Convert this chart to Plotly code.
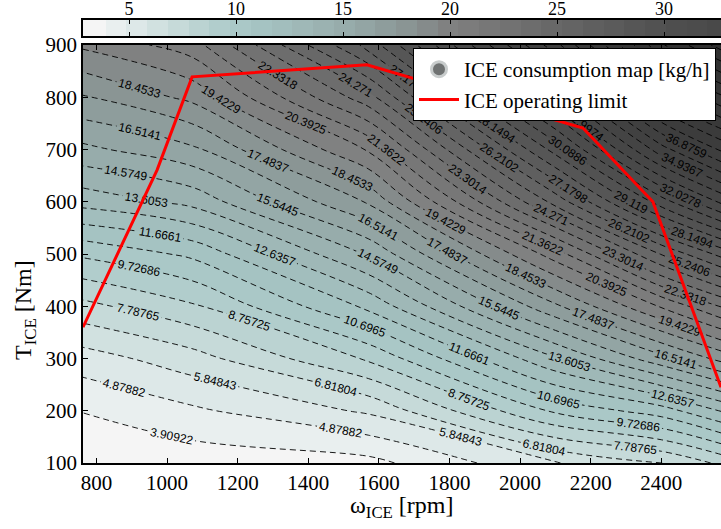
import plotly.graph_objects as go

# ---- data ----
omega = [762, 1070, 1570, 2100, 2400, 2570]               # rpm grid
torque = [100, 200, 300, 400, 500, 600, 700, 800, 900]    # Nm grid
fuel = [                                                  # kg/h, rows = torque
    [2.94, 3.30, 3.60, 5.80, 6.80, 8.00],
    [3.95, 4.70, 6.00, 9.90, 11.2, 12.7],
    [5.40, 6.40, 8.90, 13.5, 16.2, 17.8],
    [7.50, 8.60, 11.9, 17.3, 20.5, 22.4],
    [9.90, 10.9, 14.7, 20.9, 25.3, 27.5],
    [13.0, 13.9, 17.6, 25.6, 30.6, 33.2],
    [15.3, 16.3, 20.5, 29.5, 35.5, 38.0],
    [17.4, 18.7, 23.9, 33.5, 40.0, 42.5],
    [19.6, 20.9, 27.5, 37.5, 44.5, 47.0],
]
limit_speed = [762, 972, 1071, 1566, 2178, 2376, 2569]
limit_torque = [360, 661, 839, 862, 741, 600, 245]

level_start = 3.909216
level_step = 0.9696075
n_levels = 45

x_ticks = [800, 1000, 1200, 1400, 1600, 1800, 2000, 2200, 2400]
y_ticks = [100, 200, 300, 400, 500, 600, 700, 800, 900]
cb_ticks = [5, 10, 15, 20, 25, 30]
cb_range = [2.85, 32.66]

color_stops = [
    (3.42, "#f5f5f5"), (5.0, "#e2ebeb"), (7.0, "#c9dcdb"), (9.5, "#aecbca"),
    (11.0, "#a6c4c3"), (13.0, "#9fb9b8"), (15.5, "#95a9a8"), (18.0, "#8a9594"),
    (20.0, "#808080"), (25.0, "#676767"), (30.0, "#505050"), (35.0, "#424242"),
    (47.1, "#2e2e2e"),
]

# derived level / colour bookkeeping
levels = [level_start + k * level_step for k in range(n_levels)]
level_end = levels[-1]
c_lo = level_start - level_step / 2
c_hi = level_end + level_step / 2
colorscale = [[min(1.0, max(0.0, (v - c_lo) / (c_hi - c_lo))), c] for v, c in color_stops]
colorscale[0][0] = 0.0
colorscale[-1][0] = 1.0
band_edges = [cb_range[0]] + levels + [level_end + level_step]
band_values = [levels[0] - level_step / 2] + [lv + level_step / 2 for lv in levels]

# ---- layout geometry (pixels) ----
W, H = 721, 529
ML, MT, MR, MB = 83, 20, 0, 66
area_h = H - MT - MB            # 443
plot_w = W - ML - MR
plot_top, plot_bot = 45, 463
cb_top, cb_bot = 20, 36
main_dom = [0, (plot_bot - plot_top) / area_h]
cb_dom = [(plot_bot - cb_bot) / area_h, 1]

serif = "Liberation Serif"

fig = go.Figure()
fig.add_trace(go.Contour(
    x=omega, y=torque, z=fuel,
    colorscale=colorscale, showscale=False,
    contours=dict(start=level_start, end=level_end, size=level_step,
                  coloring="fill", showlabels=True,
                  labelfont=dict(size=12, color="black", family="Liberation Sans"),
                  labelformat=".6~g"),
    line=dict(color="black", width=0.9, dash="6px,4px"),
    name="ICE consumption map [kg/h]", showlegend=False,
    xaxis="x", yaxis="y",
))
# legend entry for the map (ellipse-like icon)
fig.add_trace(go.Scatter(
    x=[None], y=[None], mode="markers",
    marker=dict(symbol="circle", size=15, color="#6f7272",
                line=dict(color="#c8cccc", width=3)),
    name="ICE consumption map [kg/h]", xaxis="x", yaxis="y",
))
fig.add_trace(go.Scatter(
    x=limit_speed, y=limit_torque, mode="lines",
    line=dict(color="red", width=3), name="ICE operating limit",
    xaxis="x", yaxis="y",
))
# colour bar strip (banded, like the contour fill)
fig.add_trace(go.Heatmap(
    x=band_edges, y=[0, 1], z=[band_values],
    colorscale=colorscale, zmin=c_lo, zmax=c_hi, showscale=False,
    showlegend=False, hoverinfo="skip", xaxis="x2", yaxis="y2",
))

axis_common = dict(ticks="inside", tickcolor="black", showline=True,
                   linecolor="black", linewidth=1.5, showgrid=False, zeroline=False)

fig.update_layout(
    width=W, height=H,
    margin=dict(l=ML, r=MR, t=MT, b=MB, autoexpand=False),
    paper_bgcolor="white", plot_bgcolor="white",
    font=dict(family=serif, color="black"),
    legend=dict(x=(413 - ML) / plot_w, y=(plot_bot - 48) / area_h,
                xanchor="left", yanchor="top",
                bgcolor="white", bordercolor="black", borderwidth=1,
                font=dict(family=serif, size=21), itemwidth=40,
                tracegroupgap=0),
    xaxis=dict(domain=[0, 1], anchor="y", range=[762, 2569], tickvals=x_ticks,
               ticklen=5, mirror="ticks", tickfont=dict(family=serif, size=21),
               **axis_common),
    yaxis=dict(domain=main_dom, anchor="x", range=[100, 900], tickvals=y_ticks,
               ticklen=5, tickfont=dict(family=serif, size=21), **axis_common),
    xaxis2=dict(domain=[0, 1], anchor="y2", range=cb_range, tickvals=cb_ticks,
                side="top", ticklen=4, mirror="ticks", ticklabelstandoff=-4,
                tickfont=dict(family=serif, size=18), **axis_common),
    yaxis2=dict(domain=cb_dom, anchor="x2", range=[0, 1], showticklabels=False,
                ticks="", showline=True, linecolor="black", linewidth=1.5,
                mirror=True, showgrid=False, zeroline=False),
    annotations=[
        dict(text="ω<sub>ICE</sub> [rpm]", xref="paper", yref="paper",
             x=0.5, y=(plot_bot - 507) / area_h, xanchor="center", yanchor="middle",
             showarrow=False, font=dict(family=serif, size=24)),
        dict(text="T<sub>ICE</sub> [Nm]", xref="paper", yref="paper",
             x=(25 - ML) / plot_w, y=(plot_bot - 310) / area_h,
             xanchor="center", yanchor="middle", showarrow=False,
             textangle=-90, font=dict(family=serif, size=24)),
    ],
)

fig.write_html("out.html", config={"displayModeBar": False},
               post_script="document.body.style.margin='0';")
